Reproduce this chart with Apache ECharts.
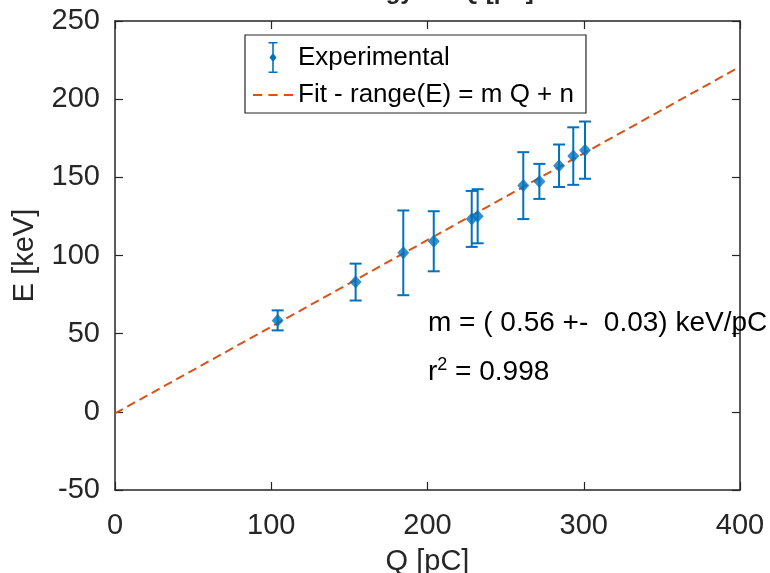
<!DOCTYPE html>
<html>
<head>
<meta charset="utf-8">
<script src="https://cdn.jsdelivr.net/npm/echarts@6/dist/echarts.min.js"></script>
<style>
  html, body { margin: 0; padding: 0; background: #fff; }
  #chart { width: 770px; height: 573px; }
</style>
</head>
<body>
<div id="chart"></div>
<script>
// measured points (charge vs energy) with their error bars
var chargeQ = [104.1, 154.0, 184.5, 204.0, 228.3, 232.1, 261.3, 271.6, 284.2, 293.3, 300.8];
var energyE = [58.5, 83.0, 101.7, 109.1, 123.4, 125.1, 144.7, 147.4, 157.4, 163.6, 167.4];
var energyErr = [6.4, 11.8, 27.1, 19.2, 17.9, 17.3, 21.4, 11.2, 13.6, 18.4, 18.3];

// fitted line endpoints
var fitQ = [0, 400];
var fitE = [-1, 220.8];

var xTicks = [0, 100, 200, 300, 400];
var yTicks = [-50, 0, 50, 100, 150, 200, 250];

var AXIS = '#262626';
var BLUE = '#0072BD';
var ORANGE = '#D95319';
var NARROW = '"Liberation Sans Narrow", "Liberation Sans", Arial, sans-serif';
var SANS = '"Liberation Sans", Arial, sans-serif';

var pts = chargeQ.map(function (q, i) { return [q, energyE[i], energyErr[i]]; });
var fitPts = fitQ.map(function (q, i) { return [q, fitE[i]]; });

function errorBar(params, api) {
  var q = api.value(0), e = api.value(1), d = api.value(2);
  var top = api.coord([q, e + d]);
  var bot = api.coord([q, e - d]);
  var cap = 6;
  var st = { stroke: BLUE, lineWidth: 2 };
  return {
    type: 'group',
    children: [
      { type: 'line', shape: { x1: top[0], y1: top[1], x2: bot[0], y2: bot[1] }, style: st },
      { type: 'line', shape: { x1: top[0] - cap, y1: top[1], x2: top[0] + cap, y2: top[1] }, style: st },
      { type: 'line', shape: { x1: bot[0] - cap, y1: bot[1], x2: bot[0] + cap, y2: bot[1] }, style: st }
    ]
  };
}

function baseAxis(min, max, step, extra) {
  var a = {
    type: 'value', min: min, max: max, interval: step,
    axisLine: { show: true, onZero: false, lineStyle: { color: AXIS, width: 1.5 } },
    axisTick: { show: true, inside: true, length: 8, lineStyle: { color: AXIS, width: 1.2 } },
    axisLabel: { show: false },
    splitLine: { show: false }
  };
  for (var k in extra) a[k] = extra[k];
  return a;
}

var chart = echarts.init(document.getElementById('chart'), null, { renderer: 'canvas' });
chart.setOption({
  animation: false,
  backgroundColor: '#fff',
  title: {
    text: 'Energy vs. Q [pC]',
    left: 428, top: -25, textAlign: 'center',
    textStyle: { fontFamily: SANS, fontSize: 24, fontWeight: 'bold', color: AXIS }
  },
  grid: { left: 115, right: 30, top: 21, bottom: 83, containLabel: false, outerBoundsMode: 'none' },
  legend: {
    orient: 'vertical',
    left: 245, top: 35,
    padding: [7, 12, 5, 8],
    itemGap: 9,
    itemWidth: 40, itemHeight: 31,
    itemTextGap: 7,
    borderColor: AXIS, borderWidth: 1.2,
    backgroundColor: '#fff',
    textStyle: { fontFamily: SANS, fontSize: 26, color: '#000' },
    data: [
      { name: 'Experimental',
        icon: 'path://M0,0h9v1.6h-9z M3.7,0h1.6v31h-1.6z M0,29.4h9v1.6h-9z M4.5,11l3.5,4.5l-3.5,4.5l-3.5,-4.5z' },
      { name: 'Fit - range(E) = m Q + n',
        icon: 'path://M0,0h9v2h-9z M15,0h9v2h-9z M30,0h9v2h-9z' }
    ]
  },
  xAxis: [
    baseAxis(0, 400, 100, {
      position: 'bottom',
      name: 'Q [pC]', nameLocation: 'middle', nameGap: 57,
      nameTextStyle: { fontFamily: NARROW, fontSize: 29, color: AXIS },
      axisLabel: { show: true, fontFamily: NARROW, fontSize: 29, color: AXIS, margin: 21,
        customValues: xTicks }
    }),
    baseAxis(0, 400, 100, { position: 'top' })
  ],
  yAxis: [
    baseAxis(-50, 250, 50, {
      position: 'left',
      name: 'E [keV]', nameLocation: 'middle', nameGap: 76, nameRotate: 90,
      nameTextStyle: { fontFamily: NARROW, fontSize: 29, color: AXIS },
      axisLabel: { show: true, fontFamily: NARROW, fontSize: 29, color: AXIS, margin: 15,
        customValues: yTicks }
    }),
    baseAxis(-50, 250, 50, { position: 'right' })
  ],
  series: [
    {
      name: 'Fit - range(E) = m Q + n',
      type: 'line',
      data: fitPts,
      symbol: 'none',
      color: ORANGE,
      lineStyle: { color: ORANGE, width: 2, type: [9, 5] },
      z: 3
    },
    {
      name: 'Experimental',
      type: 'custom',
      data: pts,
      color: BLUE,
      renderItem: errorBar,
      encode: { x: 0, y: 1 },
      z: 4
    },
    {
      name: 'Experimental',
      type: 'scatter',
      data: pts,
      symbol: 'diamond',
      symbolSize: [12, 13],
      itemStyle: { color: BLUE },
      z: 5
    }
  ],
  graphic: [
    {
      type: 'text', left: 428, top: 309, z: 10,
      style: { text: 'm = ( 0.56 +-  0.03) keV/pC', fontFamily: SANS, fontSize: 28, fill: '#000' }
    },
    {
      type: 'text', left: 428, top: 356, z: 10,
      style: {
        text: '{a|r}{s|2}{a| = 0.998}',
        rich: {
          a: { fontFamily: SANS, fontSize: 28, color: '#000' },
          s: { fontFamily: SANS, fontSize: 18, color: '#000', padding: [0, 0, 14, 0] }
        }
      }
    }
  ]
});
</script>
</body>
</html>
